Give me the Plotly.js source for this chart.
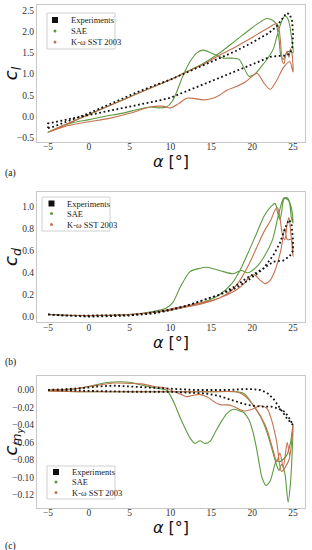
<!DOCTYPE html>
<html><head><meta charset="utf-8">
<script src="https://cdn.plot.ly/plotly-3.0.1.min.js"></script>
<style>html,body{margin:0;padding:0;background:#fff;}#chart{width:312px;height:550px;}</style>
</head><body><div id="chart"></div>
<script>
// ---------- (a) lift coefficient ----------
const clExpAlpha = [-5,-4.5,-4,-3,-2,-1,0,2,4,6,8,10,12,14,16,18,20,22,23,23.6,24.2,24.6,24.9,25,24.9,24.6,24,23,22.2,20,18,16,14,12,10,8,6,4,2,0,-2,-4,-5,-5];
const clExp = [-0.28,-0.26,-0.22,-0.15,-0.07,0.0,0.07,0.24,0.41,0.58,0.73,0.87,1.04,1.21,1.38,1.55,1.75,1.97,2.13,2.3,2.45,2.42,2.25,1.95,1.62,1.48,1.44,1.43,1.41,1.23,1.07,0.91,0.76,0.6,0.44,0.35,0.27,0.19,0.11,0.03,-0.05,-0.13,-0.17,-0.28];
const clSaeAlpha = [-5,0,5,10,12,14,16,18,20,21,21.8,22.5,22.9,23.3,23.5,23.8,24.2,24.6,25,24.8,24.4,24.0,23.6,23.1,22.6,22.0,21.2,20.3,19.6,19.0,18.4,17.5,16.5,15,14,13.2,12.4,11.5,10.8,10.2,9.5,8.5,7.5,6,4,2,0,-2,-3.5,-5];
const clSae = [-0.38,0.04,0.46,0.87,1.06,1.25,1.5,1.8,2.1,2.24,2.32,2.28,2.2,1.8,1.45,1.35,1.5,1.55,1.5,1.9,2.3,2.38,2.25,1.95,1.6,1.4,1.2,1.0,0.95,1.15,1.35,1.38,1.38,1.5,1.57,1.5,1.3,0.95,0.6,0.35,0.22,0.2,0.22,0.16,0.07,0.0,-0.08,-0.15,-0.25,-0.38];
const clSstAlpha = [-5,0,5,10,12,14,16,18,20,22,23,23.3,23.5,23.7,23.9,24.1,24.3,24.5,24.7,24.9,25,24.6,23.8,23,22.2,21.4,20.6,20,19.2,18,16.9,16,15.2,14,13,12,11,10,9,7.5,5,2.5,0,-2.5,-5];
const clSst = [-0.38,0.04,0.46,0.87,1.05,1.23,1.45,1.65,1.87,2.1,2.2,2.05,1.7,1.3,1.25,1.45,1.55,1.4,1.6,1.45,1.05,1.3,1.15,0.85,0.64,0.8,1.02,0.95,0.82,0.7,0.62,0.5,0.43,0.39,0.42,0.43,0.3,0.2,0.24,0.22,0.07,-0.05,-0.13,-0.22,-0.38];

// ---------- (b) drag coefficient ----------
const cdExpAlpha = [-5,-3,0,3,5,7,9,10,12,14,16,18,19.3,20.5,21.4,22.6,23.4,24,24.5,24.8,25,25,24.6,23.8,22.6,21.8,20.5,19.5,18,16,14,12,10,8,5,0,-5];
const cdExp = [0.02,0.01,0.01,0.01,0.015,0.03,0.05,0.065,0.1,0.15,0.2,0.28,0.35,0.4,0.44,0.56,0.67,0.8,0.88,0.85,0.7,0.6,0.55,0.51,0.5,0.46,0.39,0.33,0.26,0.2,0.15,0.1,0.06,0.03,0.01,0.0,0.02];
const cdSaeAlpha = [-5,0,5,8,10,12,14,16,17.5,18.5,19.5,20.5,21.5,22.3,22.8,23.1,23.4,23.6,23.9,24.3,24.6,24.9,25,24.8,24.5,23.9,23.3,22.5,21.5,20.5,19.5,18.7,18.3,17.7,16,14.4,13.6,12.4,11.2,10.3,9.5,8,5,0,-5];
const cdSae = [0.02,0.01,0.02,0.04,0.06,0.09,0.13,0.2,0.3,0.42,0.58,0.75,0.92,1.0,1.03,0.95,0.88,0.95,1.07,1.08,1.04,0.95,0.85,0.9,1.05,1.08,0.95,0.7,0.55,0.45,0.4,0.42,0.41,0.39,0.42,0.45,0.44,0.41,0.27,0.13,0.08,0.05,0.02,0.01,0.02];
const cdSstAlpha = [-5,0,5,8,10,12,14,16,17.5,18.5,19.5,20.5,21.5,22.3,22.8,23.1,23.4,23.7,24,24.3,24.5,24.7,25,24.8,24.3,24,23.5,22.8,22.2,21.6,21,20.3,19.8,19,18,16,14,12,10,8,5,0,-5];
const cdSst = [0.02,0.01,0.02,0.04,0.06,0.09,0.12,0.17,0.24,0.33,0.46,0.62,0.78,0.88,0.97,0.99,0.9,0.75,0.7,0.85,0.9,0.78,0.55,0.7,0.7,0.8,0.6,0.42,0.33,0.3,0.33,0.38,0.37,0.3,0.24,0.17,0.13,0.1,0.07,0.04,0.02,0.01,0.02];

// ---------- (c) pitching moment coefficient ----------
const cmExpAlpha = [-5,-3,-1,1,3,5,7,9,11,13,15,17,19,20,21,21.8,22.6,23.2,23.8,24.3,24.7,25,24.6,24,23.2,22.3,21.3,20,19,17.7,16,14.4,12,10,5,0,-5];
const cmExp = [0.0,0.001,0.002,0.004,0.005,0.004,0.003,0.002,0.001,0.0,0.0,0.0,0.001,0.001,0.0,-0.003,-0.01,-0.018,-0.027,-0.033,-0.037,-0.04,-0.033,-0.025,-0.021,-0.019,-0.019,-0.018,-0.016,-0.012,-0.007,-0.004,-0.003,-0.002,-0.002,-0.001,0.0];
const cmSaeAlpha = [-5,0,5,10,15,18,19,20.1,21,21.8,22.5,23,23.3,23.6,24,24.4,24.7,25,24.7,24.2,23.7,23.3,23,22.5,22.2,21.7,21.2,20.9,20.5,20.1,19.6,19,18.5,17.7,16.9,16.3,15.6,14.8,14.2,13.6,13,12.4,11.7,11.2,10.5,9.9,9.5,8.3,6.3,5,2.5,0,-2,-5];
const cmSae = [-0.001,-0.002,-0.002,-0.002,-0.002,-0.002,-0.004,-0.017,-0.03,-0.048,-0.07,-0.086,-0.092,-0.085,-0.095,-0.128,-0.105,-0.04,-0.06,-0.075,-0.08,-0.082,-0.08,-0.095,-0.104,-0.109,-0.1,-0.086,-0.065,-0.048,-0.034,-0.026,-0.024,-0.022,-0.027,-0.035,-0.046,-0.059,-0.061,-0.058,-0.061,-0.055,-0.042,-0.032,-0.016,-0.005,0.0,0.002,0.006,0.0088,0.0088,0.004,0.001,0.0];
const cmSstAlpha = [-5,0,5,10,15,18,19,20.1,21.6,22.6,23,23.4,23.8,24.3,24.6,25,24.5,23.6,23,22.4,21.8,21,20,19,18.2,17.5,16.9,16.2,15.6,14.5,13.5,12.8,12,11.3,10.5,9.5,8,6.5,5,3,1.5,0,-2,-5];
const cmSst = [-0.001,-0.002,-0.002,-0.002,-0.002,-0.002,-0.006,-0.017,-0.04,-0.07,-0.082,-0.072,-0.088,-0.06,-0.075,-0.04,-0.08,-0.093,-0.059,-0.035,-0.021,-0.018,-0.022,-0.024,-0.021,-0.018,-0.017,-0.017,-0.015,-0.008,-0.005,-0.006,-0.0076,-0.005,-0.002,0.002,0.004,0.007,0.0075,0.008,0.006,0.004,0.001,0.0];

const seriesNames = ['Experiments','SAE','K-\u03c9 SST 2003'];
const colExp = '#111111', colSae = '#5e9a40', colSst = '#c4724e';

const W = 312, H = 550, ML = 37, MR = 7;
const PW = W - ML - MR;
const px2x = px => (px - ML) / PW;
const py2y = py => 1 - py / H;

const panels = [
  {xa:'x', ya:'y', data:[[clExpAlpha,clExp],[clSaeAlpha,clSae],[clSstAlpha,clSst]],
   leg:{left:47, top:13, right:115, bottom:49, rows:[20,31,42], mx:55, tx:69}},
  {xa:'x2', ya:'y2', data:[[cdExpAlpha,cdExp],[cdSaeAlpha,cdSae],[cdSstAlpha,cdSst]],
   leg:{left:42, top:197, right:110, bottom:231, rows:[203.5,213.5,224.5], mx:51.5, tx:65}},
  {xa:'x3', ya:'y3', data:[[cmExpAlpha,cmExp],[cmSaeAlpha,cmSae],[cmSstAlpha,cmSst]],
   leg:{left:47, top:466, right:115, bottom:499, rows:[472,482,492.5], mx:56, tx:70}}
];

const traces = [];
const shapes = [];
const annotations = [];
const legFont = {family:'Liberation Serif', size:8.5, color:'#222'};
const legColors = [colExp, colSae, colSst];
panels.forEach(p => {
  const [e,s,k] = p.data;
  traces.push({x:s[0], y:s[1], xaxis:p.xa, yaxis:p.ya, mode:'lines', name:seriesNames[1], showlegend:false, hoverinfo:'skip',
    line:{color:colSae, width:1.1, shape:'spline', smoothing:0.8}});
  traces.push({x:k[0], y:k[1], xaxis:p.xa, yaxis:p.ya, mode:'lines', name:seriesNames[2], showlegend:false, hoverinfo:'skip',
    line:{color:colSst, width:1.1, shape:'spline', smoothing:0.8}});
  traces.push({x:e[0], y:e[1], xaxis:p.xa, yaxis:p.ya, mode:'lines', name:seriesNames[0], showlegend:false, hoverinfo:'skip',
    line:{color:colExp, width:1.8, dash:'1.8px,2.6px'}});
  // legend box (matplotlib-style, drawn in paper coordinates)
  const L = p.leg;
  shapes.push({type:'rect', xref:'paper', yref:'paper', x0:px2x(L.left), x1:px2x(L.right), y0:py2y(L.bottom), y1:py2y(L.top),
    line:{color:'#d0d0d0', width:1}, fillcolor:'rgba(255,255,255,0.85)', layer:'above'});
  L.rows.forEach((ry, i) => {
    const r = i === 0 ? 3 : 1.5;
    shapes.push({type: i === 0 ? 'rect' : 'circle', xref:'paper', yref:'paper',
      x0:px2x(L.mx - r), x1:px2x(L.mx + r), y0:py2y(ry + r), y1:py2y(ry - r),
      line:{width:0}, fillcolor:legColors[i], layer:'above'});
    annotations.push({text:seriesNames[i], xref:'paper', yref:'paper', x:px2x(L.tx), y:py2y(ry),
      xanchor:'left', yanchor:'middle', showarrow:false, font:legFont});
  });
});

const tickFont = {family:'Liberation Serif', size:9.5, color:'#333'};
const xTitle = {text:'<i>\u03b1</i> [\u00b0]', font:{family:'DejaVu Sans', size:16, color:'#111'}, standoff:0};
function xAxis(anchor){
  return {anchor:anchor, domain:[0,1], range:[-6.35,26.47], tickvals:[-5,0,5,10,15,20,25],
    ticks:'', ticklabelstandoff:-4, showline:true, mirror:true, linecolor:'#c8c8c8', linewidth:1,
    showgrid:false, zeroline:false, tickfont:tickFont, title:xTitle, automargin:false};
}
function yAxis(anchor, dom, range, tv, fmt, title){
  return {anchor:anchor, domain:dom, range:range, tickvals:tv, tickformat:fmt,
    ticks:'', showline:true, mirror:true, linecolor:'#c8c8c8', linewidth:1,
    showgrid:false, zeroline:false, tickfont:tickFont, automargin:false,
    title:{text:title, font:{family:'DejaVu Sans', size:18, color:'#111'}, standoff:4}};
}

[['(a)',173],['(b)',362],['(c)',546]].forEach(([t, py]) => {
  annotations.push({text:t, xref:'paper', yref:'paper', x:px2x(3), y:py2y(py), xanchor:'left', yanchor:'middle',
    showarrow:false, font:{family:'Liberation Serif', size:9.5, color:'#111'}});
});

const layout = {
  width:W, height:H, margin:{l:ML, r:MR, t:0, b:0},
  paper_bgcolor:'#fff', plot_bgcolor:'#fff', showlegend:false,
  xaxis: xAxis('y'), xaxis2: xAxis('y2'), xaxis3: xAxis('y3'),
  yaxis: yAxis('x', [py2y(142),py2y(5)], [-0.61,2.64], [-0.5,0,0.5,1,1.5,2,2.5], '.1f', '<i>c<sub>l</sub></i>'),
  yaxis2: yAxis('x2', [py2y(322.3),py2y(191.7)], [-0.051,1.136], [0,0.2,0.4,0.6,0.8,1.0], '.1f', '<i>c<sub>d</sub></i>'),
  yaxis3: yAxis('x3', [py2y(507.7),py2y(376)], [-0.1345,0.016], [0,-0.02,-0.04,-0.06,-0.08,-0.10,-0.12], '.2f', '<i>c<sub>m<sub>y</sub></sub></i>'),
  shapes: shapes,
  annotations: annotations
};
Plotly.newPlot('chart', traces, layout, {displayModeBar:false, staticPlot:true});
</script></body></html>
